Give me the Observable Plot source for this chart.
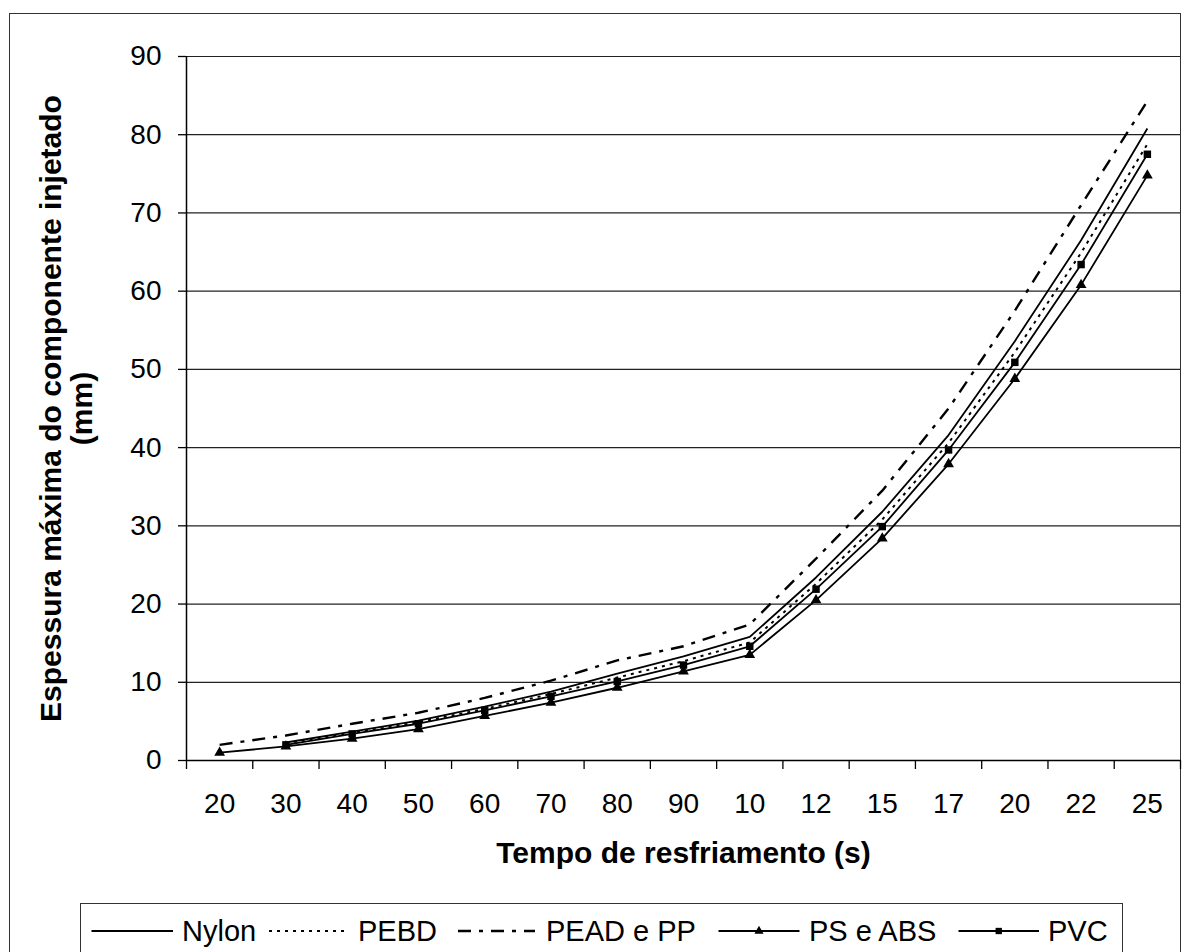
<!DOCTYPE html>
<html>
<head>
<meta charset="utf-8">
<script src="https://cdn.jsdelivr.net/npm/d3@7"></script>
<script src="https://cdn.jsdelivr.net/npm/@observablehq/plot@0.6"></script>
<style>
  body { margin: 0; background: #fff; font-family: "Liberation Sans", Arial, sans-serif; }
  #page { position: relative; width: 1185px; height: 952px; overflow: hidden; background: #fff; }
  #frame { position: absolute; left: 9px; top: 13px; width: 1172px; height: 980px; border: 1.5px solid #333; box-sizing: border-box; }
  #chart { position: absolute; left: 0; top: 0; }
  #legend { position: absolute; left: 80px; top: 903px; width: 1043px; height: 80px; border: 1.2px solid #333; box-sizing: border-box; background: #fff; }
</style>
</head>
<body>
<div id="page">
  <div id="frame"></div>
  <div id="chart"></div>
  <div id="legend"></div>
</div>
<script>
// ---- data ----
const categories = ["20", "30", "40", "50", "60", "70", "80", "90", "10", "12", "15", "17", "20", "22", "25"];
const yTicks = [0, 10, 20, 30, 40, 50, 60, 70, 80, 90];
const seriesNames = ["Nylon", "PEBD", "PEAD e PP", "PS e ABS", "PVC"];

const nylon  = [null, 2.3, 3.7, 5.1, 6.9, 8.8, 11.1, 13.3, 15.8, 23.4, 31.8, 41.6, 53.6, 66.5, 80.8];
const pebd   = [null, 2.2, 3.5, 4.9, 6.6, 8.5, 10.6, 12.7, 15.1, 22.6, 30.8, 40.6, 52.2, 64.9, 78.8];
const pead   = [2.0, 3.2, 4.7, 6.1, 8.0, 10.2, 12.8, 14.6, 17.4, 25.8, 34.5, 45.0, 57.5, 71.0, 84.3];
const psAbs  = [1.0, 1.8, 2.8, 4.0, 5.7, 7.4, 9.3, 11.4, 13.5, 20.5, 28.4, 37.9, 48.8, 60.8, 74.8];
const pvc    = [null, 2.0, 3.4, 4.7, 6.4, 8.2, 10.1, 12.2, 14.6, 21.9, 29.9, 39.7, 50.9, 63.4, 77.5];

const xLabel = "Tempo de resfriamento (s)";
const yLabel1 = "Espessura máxima do componente injetado";
const yLabel2 = "(mm)";

// ---- styles ----
const styles = {
  "Nylon":     {dash: null,        width: 1.8, symbol: null},
  "PEBD":      {dash: "3,5",       width: 2.0, symbol: null},
  "PEAD e PP": {dash: "13,8,4,8",  width: 2.4, symbol: null},
  "PS e ABS":  {dash: null,        width: 1.8, symbol: "triangle"},
  "PVC":       {dash: null,        width: 1.8, symbol: "square"}
};
const valuesBySeries = {"Nylon": nylon, "PEBD": pebd, "PEAD e PP": pead, "PS e ABS": psAbs, "PVC": pvc};

function rows(name) {
  return valuesBySeries[name]
    .map((v, i) => ({series: name, i, v}))
    .filter(d => d.v != null);
}

const font = "'Liberation Sans', Arial, sans-serif";
const idx = d3.range(categories.length);
const bounds = d3.range(categories.length + 1).map(i => i - 0.5);

const lineMarks = seriesNames.map(name => Plot.line(rows(name), {
  x: "i", y: "v", stroke: "#000",
  strokeWidth: styles[name].width,
  strokeDasharray: styles[name].dash,
  strokeLinejoin: "miter", strokeLinecap: "butt"
}));
const dotMarks = seriesNames.filter(n => styles[n].symbol).map(name => Plot.dot(rows(name), {
  x: "i", y: "v", fill: "#000", stroke: null,
  symbol: styles[name].symbol,
  r: styles[name].symbol === "triangle" ? 4.0 : 4.2
}));

const chart = Plot.plot({
  width: 1185,
  height: 890,
  marginLeft: 186,
  marginRight: 5,
  marginTop: 56,
  marginBottom: 130,
  x: {type: "linear", domain: [-0.5, categories.length - 0.5]},
  y: {domain: [0, 90]},
  style: {fontFamily: font, background: "transparent", color: "#000", overflow: "visible"},
  marks: [
    Plot.ruleY(yTicks.filter(d => d > 0), {stroke: "#222", strokeWidth: 1.2}),
    Plot.axisY({ticks: yTicks, tickSize: 8, tickPadding: 17, fontSize: 28, label: null, tickFormat: d => String(d), stroke: "#000", strokeWidth: 1.3}),
    Plot.axisX({ticks: bounds, tickSize: 9, tickFormat: () => "", label: null, stroke: "#000", strokeWidth: 1.3}),
    Plot.axisX({ticks: idx, tickSize: 0, tickPadding: 33, fontSize: 28, label: null, tickFormat: i => categories[i]}),
    Plot.ruleX([-0.5], {stroke: "#000", strokeWidth: 1.5}),
    Plot.ruleY([0], {stroke: "#000", strokeWidth: 1.5}),
    ...lineMarks,
    ...dotMarks,
    Plot.text([xLabel], {text: d => d, frameAnchor: "bottom", dy: 93, lineAnchor: "middle", fontSize: 30, fontWeight: "bold", fill: "#000"}),
    Plot.text([yLabel1], {text: d => d, frameAnchor: "left", dx: -135, rotate: -90, textAnchor: "middle", lineAnchor: "middle", fontSize: 30, fontWeight: "bold", fill: "#000"}),
    Plot.text([yLabel2], {text: d => d, frameAnchor: "left", dx: -104, rotate: -90, textAnchor: "middle", lineAnchor: "middle", fontSize: 30, fontWeight: "bold", fill: "#000"})
  ]
});
document.getElementById("chart").appendChild(chart);

// ---- legend (below the chart) ----
const legendItems = [
  {name: "Nylon",     x1: 10.5,  x2: 92,    tx: 101},
  {name: "PEBD",      x1: 188,   x2: 268,   tx: 277},
  {name: "PEAD e PP", x1: 377,   x2: 454,   tx: 465},
  {name: "PS e ABS",  x1: 637.5, x2: 718.5, tx: 728},
  {name: "PVC",       x1: 877.5, x2: 958,   tx: 967}
];
const lsvg = d3.select("#legend").append("svg")
  .attr("width", 1041).attr("height", 78)
  .style("display", "block")
  .style("font-family", font);
const ly = 27;
legendItems.forEach(it => {
  const st = styles[it.name];
  lsvg.append("line")
    .attr("x1", it.x1).attr("x2", it.x2).attr("y1", ly).attr("y2", ly)
    .attr("stroke", "#000").attr("stroke-width", st.width)
    .attr("stroke-dasharray", st.dash);
  if (st.symbol) {
    const sym = st.symbol === "triangle" ? d3.symbolTriangle : d3.symbolSquare;
    lsvg.append("path")
      .attr("d", d3.symbol(sym, st.symbol === "triangle" ? 36 : 40)())
      .attr("transform", `translate(${(it.x1 + it.x2) / 2},${ly})`)
      .attr("fill", "#000");
  }
  lsvg.append("text")
    .attr("x", it.tx).attr("y", 37)
    .attr("font-size", 29)
    .attr("fill", "#000")
    .text(it.name);
});
</script>
</body>
</html>
